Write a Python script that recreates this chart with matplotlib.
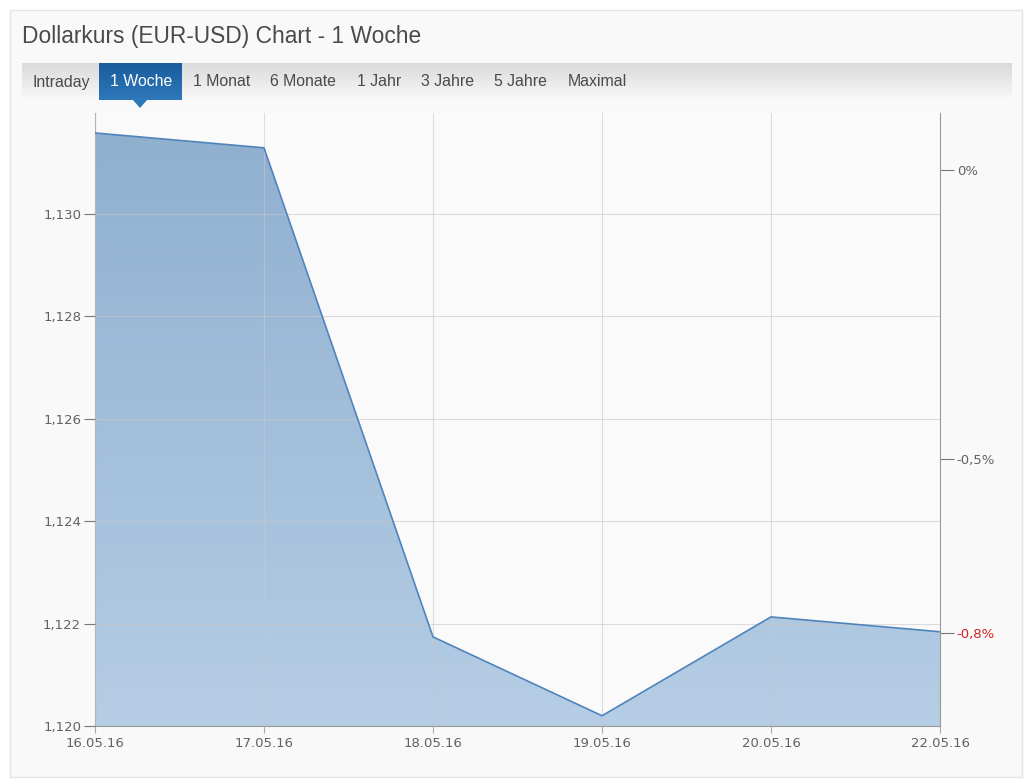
import numpy as np
import matplotlib
matplotlib.use("Agg")
import matplotlib.pyplot as plt
from matplotlib.patches import Rectangle, Polygon
from matplotlib.ticker import FuncFormatter

# chart data
dates = ["16.05.16", "17.05.16", "18.05.16", "19.05.16", "20.05.16", "22.05.16"]
kurs = [1.13158, 1.13129, 1.12174, 1.12020, 1.12213, 1.12184]
ref_close = 1.13086  # basis for the percent axis
pct_ticks = [0.0, -0.5, -0.8]
pct_labels = ["0%", "-0,5%", "-0,8%"]
y_ticks = [1.120, 1.122, 1.124, 1.126, 1.128, 1.130]
tabs = ["Intraday", "1 Woche", "1 Monat", "6 Monate", "1 Jahr", "3 Jahre", "5 Jahre", "Maximal"]
active_tab = "1 Woche"
title = "Dollarkurs (EUR-USD) Chart - 1 Woche"

W, H = 1033, 779
fig = plt.figure(figsize=(W / 100, H / 100), dpi=100)
fig.patch.set_facecolor("white")


def fx(px):
    return px / W


def fy(py):
    return 1 - py / H


# outer box
fig.patches.append(Rectangle((fx(10), fy(777)), fx(1012), (767) / H, transform=fig.transFigure,
                             facecolor="#f9f9f9", edgecolor="#e4e4e4", lw=1, zorder=-5))

# title
fig.text(fx(22), fy(37), title, fontsize=16.4, color="#4a4a4a", va="center", ha="left",
         family=["Liberation Sans", "DejaVu Sans"])

# tab bar gradient
grad = np.linspace(0, 1, 64).reshape(-1, 1)
bar_ax = fig.add_axes([fx(22), fy(100), fx(990), 37 / H])
bar_ax.imshow(grad, aspect="auto", cmap=matplotlib.colors.LinearSegmentedColormap.from_list(
    "tb", ["#dadada", "#f9f9f9"]), extent=[0, 1, 1, 0])
bar_ax.set_axis_off()

# active tab
tab_x = [32, 110, 193, 270, 357, 421, 494, 568]
tab_ax = fig.add_axes([fx(99), fy(100), fx(83), 37 / H])
tab_ax.imshow(grad, aspect="auto", cmap=matplotlib.colors.LinearSegmentedColormap.from_list(
    "at", ["#1a5c9c", "#2d78ba"]), extent=[0, 1, 1, 0])
tab_ax.set_axis_off()
fig.patches.append(Polygon([(fx(133), fy(100)), (fx(147), fy(100)), (fx(140), fy(108))],
                           closed=True, transform=fig.transFigure, facecolor="#2d78ba",
                           edgecolor="none", zorder=5))
for name, x in zip(tabs, tab_x):
    fig.text(fx(x), fy(82), name, fontsize=11.4, va="center", ha="left",
             color="white" if name == active_tab else "#4a4a4a",
             family=["Liberation Sans", "DejaVu Sans"])

# main plot
ax = fig.add_axes([fx(95), fy(726), fx(845), (726 - 113) / H])
ax.set_facecolor("#fafafa")
x = np.arange(len(dates))
ymin, ymax = 1.120, 1.13197
ax.set_xlim(0, len(dates) - 1)
ax.set_ylim(ymin, ymax)

# gradient fill under the line
fill_cmap = matplotlib.colors.LinearSegmentedColormap.from_list("fill", ["#8fafcf", "#b5cde5"])
img = ax.imshow(grad, aspect="auto", cmap=fill_cmap, extent=[0, len(dates) - 1, ymin, ymax],
                origin="upper", zorder=1)
clip = Polygon(np.vstack([np.column_stack([x, kurs]), [[x[-1], ymin], [x[0], ymin]]]),
               closed=True, transform=ax.transData, facecolor="none", edgecolor="none")
ax.add_patch(clip)
img.set_clip_path(clip)
ax.plot(x, kurs, color="#4f84bb", lw=1.2, zorder=3)

ax.set_xticks(x)
ax.set_xticklabels(dates)
ax.set_yticks(y_ticks)
ax.yaxis.set_major_formatter(FuncFormatter(lambda v, p: f"{v:.3f}".replace(".", ",")))
ax.grid(True, color="#c8c8c8", lw=0.8, alpha=0.6, zorder=2)
ax.set_axisbelow(False)
for s in ["top", "right"]:
    ax.spines[s].set_visible(False)
for s in ["left", "bottom"]:
    ax.spines[s].set_color("#9a9a9a")
ax.tick_params(axis="y", length=8, color="#777777", labelsize=9.5, labelcolor="#666060", pad=2)
ax.tick_params(axis="x", length=5, color="#aaaaaa", labelsize=9.5, labelcolor="#666060", pad=3)

# percent axis
ax2 = ax.twinx()
ax2.set_ylim(ymin, ymax)
ax2.set_yticks([ref_close * (1 + p / 100) for p in pct_ticks])
ax2.set_yticklabels(pct_labels)
for s in ["top", "left", "bottom"]:
    ax2.spines[s].set_visible(False)
ax2.spines["right"].set_color("#9a9a9a")
ax2.tick_params(axis="y", length=10, color="#777777", labelsize=9.5, labelcolor="#666060", pad=2)
ax2.get_yticklabels()[-1].set_color("#d42020")

fig.savefig("out.png", dpi=100)
